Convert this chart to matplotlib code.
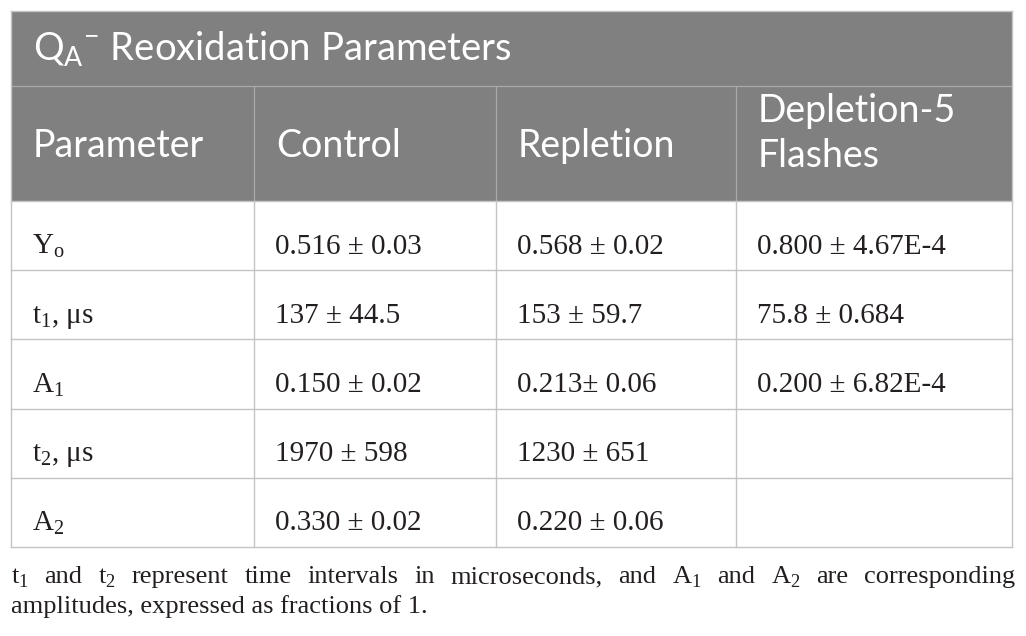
import matplotlib
matplotlib.use('Agg')
import matplotlib.pyplot as plt
from matplotlib.patches import Rectangle

# Table content
title = r'Q$_\mathregular{A}{}^\mathregular{-}$ Reoxidation Parameters'
columns = ['Parameter', 'Control', 'Repletion', 'Depletion-5\nFlashes']
params = [r'Y$_\mathregular{o}$', r't$_\mathregular{1}$, μs', r'A$_\mathregular{1}$',
          r't$_\mathregular{2}$, μs', r'A$_\mathregular{2}$']
control = ['0.516 ± 0.03', '137 ± 44.5', '0.150 ± 0.02', '1970 ± 598', '0.330 ± 0.02']
repletion = ['0.568 ± 0.02', '153 ± 59.7', '0.213± 0.06', '1230 ± 651', '0.220 ± 0.06']
depletion = ['0.800 ± 4.67E-4', '75.8 ± 0.684', '0.200 ± 6.82E-4', '', '']
foot_line1 = [r't$_\mathregular{1}$', 'and', r't$_\mathregular{2}$', 'represent', 'time',
              'intervals', 'in', 'microseconds,', 'and', r'A$_\mathregular{1}$', 'and',
              r'A$_\mathregular{2}$', 'are', 'corresponding']
foot_line2 = 'amplitudes, expressed as fractions of 1.'

# layout (pixels)
W, H = 1026, 636
left, right = 11, 1012
col_x = [11, 254, 496, 736]
top, title_bot, head_bot = 11, 86, 201
row_h = 69.2
head_bg = '#808080'
grid_c = '#c4c4c4'
txt_c = '#231f20'
sans = 'Lato'
serif = 'Liberation Serif'

fig = plt.figure(figsize=(W / 100, H / 100), dpi=100)
ax = fig.add_axes([0, 0, 1, 1])
ax.set_xlim(0, W)
ax.set_ylim(H, 0)
ax.axis('off')

n = len(params)
bottom = head_bot + n * row_h

# header background
ax.add_patch(Rectangle((left, top), right - left, head_bot - top, color=head_bg, lw=0))
ax.plot([left, right], [title_bot, title_bot], color='#a8a8a8', lw=0.9)
for x in col_x[1:]:
    ax.plot([x, x], [title_bot, head_bot], color='#a8a8a8', lw=0.9)

# grid
for i in range(n + 1):
    y = head_bot + i * row_h
    ax.plot([left, right], [y, y], color=grid_c, lw=1.0)
for x in col_x[1:]:
    ax.plot([x, x], [head_bot, bottom], color=grid_c, lw=1.0)
for x in [left, right]:
    ax.plot([x, x], [top, bottom], color=grid_c, lw=1.0)
ax.plot([left, right], [top, top], color=grid_c, lw=1.0)

# title and column headers
ax.text(33, 61, title, fontsize=27.5, family=sans, color='white', va='baseline')
for j, c in enumerate(columns):
    lines = c.split('\n')
    if len(lines) == 1:
        ax.text(col_x[j] + 22, 157, c, fontsize=27, family=sans, color='white', va='baseline')
    else:
        for k, ln in enumerate(lines):
            ax.text(col_x[j] + 22, 122 + k * 45, ln, fontsize=27, family=sans,
                    color='white', va='baseline')

# body
for i in range(n):
    yb = head_bot + i * row_h + 52.5
    for j, col in enumerate([params, control, repletion, depletion]):
        ax.text(col_x[j] + 21, yb, col[i], fontsize=21, family=serif, color=txt_c, va='baseline')

# footnote (justified first line)
fig.canvas.draw()
rend = fig.canvas.get_renderer()
words = [ax.text(0, 583, w, fontsize=19, family=serif, color=txt_c, va='baseline')
         for w in foot_line1]
widths = [t.get_window_extent(rend).width for t in words]
gap = (right + 3 - left - sum(widths)) / (len(words) - 1)
x = left
for t, w in zip(words, widths):
    t.set_x(x)
    x += w + gap
ax.text(left, 613, foot_line2, fontsize=19, family=serif, color=txt_c, va='baseline')

fig.savefig('out.png', dpi=100)
